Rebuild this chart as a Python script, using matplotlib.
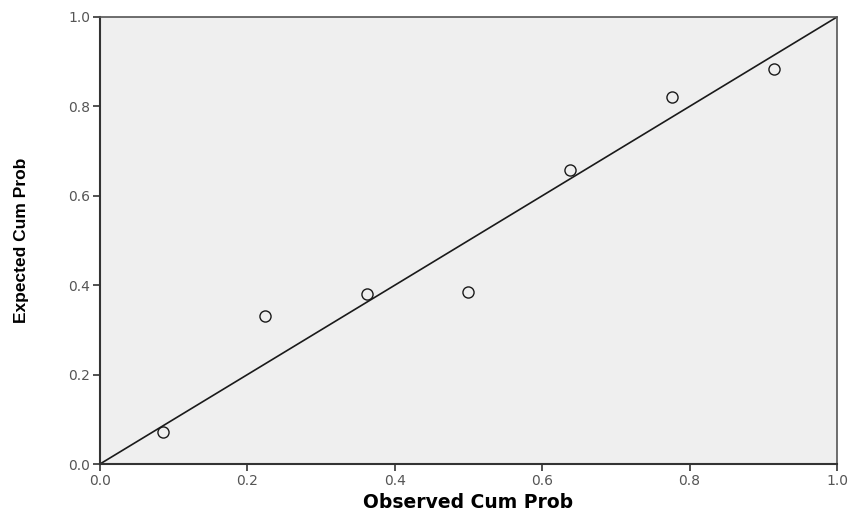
import numpy as np
import matplotlib.pyplot as plt

# observed vs expected cumulative probabilities (P-P plot)
observed = [0.086, 0.224, 0.362, 0.500, 0.638, 0.776, 0.914]
expected = [0.071, 0.331, 0.380, 0.385, 0.658, 0.821, 0.884]
ticks = [0.0, 0.2, 0.4, 0.6, 0.8, 1.0]

fig = plt.figure(figsize=(8.5, 5.15), dpi=100)
ax = fig.add_axes([0.1176, 0.099, 0.8671, 0.868])
ax.set_facecolor('#efefef')

ax.plot([0, 1], [0, 1], color='#1a1a1a', lw=1.2, zorder=2)
ax.plot(observed, expected, 'o', mfc='none', mec='#1a1a1a', mew=1.0, ms=8, zorder=3)

ax.set_xlim(0, 1)
ax.set_ylim(0, 1)
ax.set_xticks(ticks)
ax.set_yticks(ticks)
ax.set_xticklabels(['%.1f' % t for t in ticks])
ax.set_yticklabels(['%.1f' % t for t in ticks])
ax.tick_params(direction='out', length=5, width=1.2, color='#333333',
               labelsize=10, labelcolor='#555555', pad=2)

for s in ['left', 'bottom']:
    ax.spines[s].set_color('#333333')
    ax.spines[s].set_linewidth(1.5)
for s in ['top', 'right']:
    ax.spines[s].set_color('#555555')
    ax.spines[s].set_linewidth(1.2)

ax.set_xlabel('Observed Cum Prob', fontsize=13.5, fontweight='bold', labelpad=4)
ax.set_ylabel('Expected Cum Prob', fontsize=12.5, fontweight='bold', labelpad=28,
              family='Liberation Sans')

fig.savefig('out.png', dpi=100)
